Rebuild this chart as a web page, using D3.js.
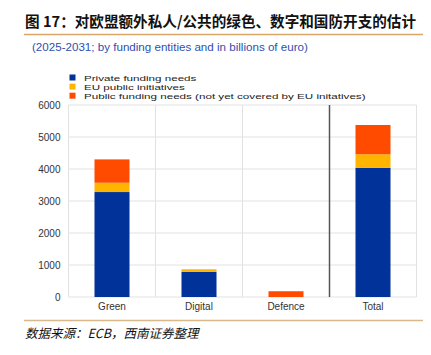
<!DOCTYPE html>
<html><head><meta charset="utf-8">
<script src="https://cdn.jsdelivr.net/npm/d3@7"></script>
<style>body{margin:0;background:#fff}svg{display:block}</style>
</head><body><svg id="c" width="431" height="355"></svg>
<script>
const categories = ["Green", "Digital", "Defence", "Total"];
const privateNeeds = [3280, 790, 0, 4040];
const euInitiatives = [290, 70, 0, 420];
const publicNeeds = [730, 5, 180, 915];
const seriesNames = ["Private funding needs", "EU public initiatives", "Public  funding needs (not yet covered by EU initatives)"];
const yTicks = [0, 1000, 2000, 3000, 4000, 5000, 6000];
const colors = ["#003299", "#ffb400", "#ff4b00"];

const svg = d3.select("#c");
const m = {l: 68.5, r: 416.5, t: 105, b: 297};
const x = d3.scaleBand().domain(categories).range([m.l, m.r]).paddingInner(0).paddingOuter(0);
const y = d3.scaleLinear().domain([0, 6000]).range([m.b, m.t]);

// title
svg.append("text").attr("x", 25).attr("y", 27).attr("font-family", "Noto Sans CJK SC").attr("font-weight", "bold")
  .attr("font-size", 14.6).attr("fill", "#111").text("图 17：对欧盟额外私人/公共的绿色、数字和国防开支的估计");
svg.append("line").attr("x1", 24).attr("x2", 423).attr("y1", 34.5).attr("y2", 34.5).attr("stroke", "#d9a868").attr("stroke-width", 1.3);
svg.append("text").attr("x", 32).attr("y", 51).attr("font-family", "Liberation Sans, Arial").attr("font-size", 11.6)
  .attr("fill", "#2f4fb0").text("(2025-2031; by funding entities and in billions of euro)");

// grid
svg.selectAll(".hg").data(yTicks).enter().append("line")
  .attr("x1", m.l).attr("x2", m.r).attr("y1", d => y(d)).attr("y2", d => y(d))
  .attr("stroke", "#e2e2e2").attr("stroke-width", 1);
const bounds = categories.map(c => x(c)).concat([m.r]);
svg.selectAll(".vg").data(bounds).enter().append("line")
  .attr("x1", d => d).attr("x2", d => d).attr("y1", m.t).attr("y2", m.b)
  .attr("stroke", (d, i) => i === 3 ? "#555" : "#e2e2e2").attr("stroke-width", (d, i) => i === 3 ? 1.5 : 1);

// bars
const rows = categories.map((c, i) => ({cat: c, p: privateNeeds[i], e: euInitiatives[i], u: publicNeeds[i]}));
const stack = d3.stack().keys(["p", "e", "u"])(rows);
const bw = 35;
stack.forEach((s, si) => {
  svg.selectAll(".b" + si).data(s).enter().append("rect")
    .attr("x", d => x(d.data.cat) + x.bandwidth() / 2 - bw / 2)
    .attr("width", bw)
    .attr("y", d => y(d[1]))
    .attr("height", d => Math.max(0, y(d[0]) - y(d[1])))
    .attr("fill", colors[si]);
});

// y axis
const ya = svg.append("g").attr("transform", `translate(${m.l},0)`)
  .call(d3.axisLeft(y).tickValues(yTicks).tickSize(0).tickPadding(8).tickFormat(d3.format("d")));
ya.select(".domain").remove();
ya.selectAll("text").attr("font-family", "Liberation Sans, Arial").attr("font-size", 10).attr("fill", "#333");

// x axis
const xa = svg.append("g").attr("transform", `translate(0,${m.b})`)
  .call(d3.axisBottom(x).tickSize(0).tickPadding(6));
xa.select(".domain").remove();
xa.selectAll("text").attr("font-family", "Liberation Sans, Arial").attr("font-size", 10).attr("fill", "#333");

// legend
const lg = svg.append("g");
seriesNames.forEach((n, i) => {
  const yy = 78 + i * 9.1;
  lg.append("rect").attr("x", 69.5).attr("y", yy - 3.5).attr("width", 6).attr("height", 6).attr("fill", colors[i]);
  lg.append("text").attr("transform", `translate(84,${yy + 3}) scale(1.14,0.78)`)
    .attr("font-family", "Liberation Sans, Arial").attr("font-size", 10.2)
    .attr("fill", "#222").text(n);
});

// footer
svg.append("line").attr("x1", 24).attr("x2", 423).attr("y1", 320.5).attr("y2", 320.5).attr("stroke", "#d9b98a").attr("stroke-width", 1.3);
svg.append("text").attr("x", 25).attr("y", 338).attr("font-family", "Noto Sans CJK SC").attr("font-style", "italic")
  .attr("font-size", 12.5).attr("fill", "#111").text("数据来源：ECB，西南证券整理");
</script></body></html>
